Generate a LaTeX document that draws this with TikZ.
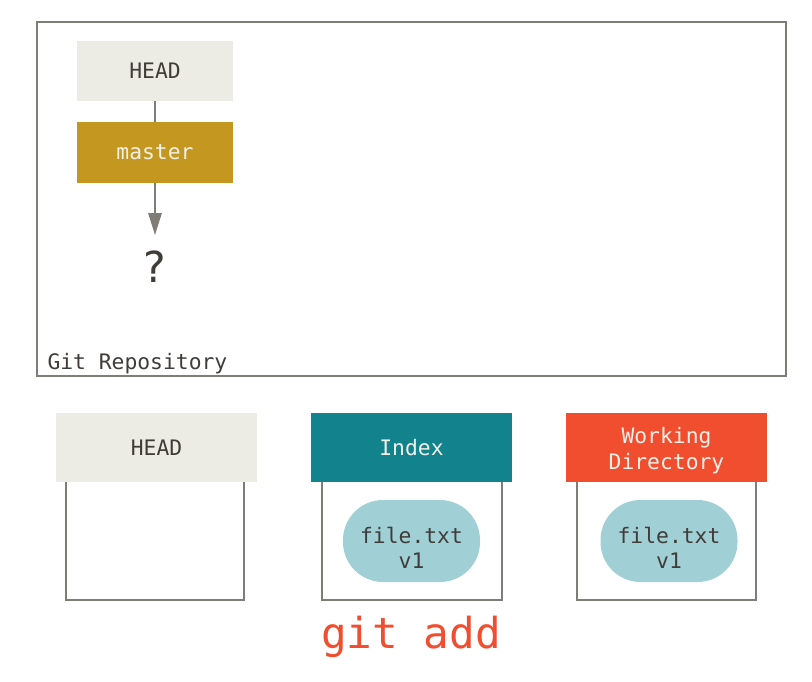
\documentclass[tikz,border=0pt]{standalone}
\usepackage{fontspec}
\setmonofont{DejaVu Sans Mono}
\setsansfont{DejaVu Sans}
\usetikzlibrary{arrows.meta}

\definecolor{headgray}{RGB}{236,236,228}
\definecolor{mastergold}{RGB}{196,152,32}
\definecolor{indexteal}{RGB}{18,130,140}
\definecolor{workred}{RGB}{240,78,46}
\definecolor{filecyan}{RGB}{160,208,214}
\definecolor{framegray}{RGB}{128,124,118}
\definecolor{textdark}{RGB}{64,60,56}
\definecolor{textlight}{RGB}{240,240,232}

\tikzset{every picture/.style={line width=0.75pt}}
\tikzset{
  framebox/.style={draw=framegray, line width=1.5},
  monotext/.style={font=\ttfamily\fontsize{16}{19.5}\selectfont},
  refbox/.style={monotext, inner sep=0pt, minimum width=117pt, minimum height=45pt},
  areahead/.style={monotext, inner sep=0pt, minimum width=150.75pt, minimum height=51.75pt},
  fileblob/.style={monotext, fill=filecyan, text=textdark, rounded corners=30pt, inner sep=0pt, minimum width=102.75pt, minimum height=61.5pt},
}
% two centred lines, lowered by #1
\newcommand{\twolines}[4]{\raisebox{-#1}[0pt][0pt]{\begin{tabular}{@{}c@{}}#2\\[#3]#4\end{tabular}}}

\begin{document}
\begin{tikzpicture}[x=0.75pt,y=0.75pt,yscale=-1,xscale=1]
\useasboundingbox (0,0) rectangle (812,681);

% Repository frame
\draw [framebox] (37,22) rectangle (786,376);
% Text Node
\node [monotext, text=textdark, anchor=base west, inner sep=0pt] (repo) at (47,369) {Git Repository};

% Reference nodes
\node [refbox, fill=headgray, text=textdark] (head) at (155,71) {HEAD};
\node [refbox, fill=mastergold, text=textlight] (master) at (155,152.5) {master};
\coordinate (tip) at (155,235);
\draw [framegray, line width=1.5] (head.south) -- (master.north);
\draw [framegray, line width=1.5, -{Triangle[length=16.5pt,width=10pt]}] (master.south) -- (tip);
% Text Node
\node [font=\sffamily\fontsize{32}{38}\selectfont, text=textdark, anchor=base, inner sep=0pt] (unknown) at (155,282) {?};

% Trees: lower boxes
\draw [framebox] (66,482) -- (66,600) -- (244,600) -- (244,482);
\draw [framebox] (322,482) -- (322,600) -- (502,600) -- (502,482);
\draw [framebox] (577,482) -- (577,600) -- (756,600) -- (756,482);

% Trees: headers
\node [areahead, fill=headgray, text=textdark] (headtree) at (156.5,447.5) {HEAD};
\node [areahead, fill=indexteal, text=textlight] (index) at (411.5,447.5) {Index};
\node [areahead, fill=workred, text=textlight] (workdir) at (666.5,447.5) {\twolines{7.5pt}{Working}{0pt}{Directory}};

% File blobs
\node [fileblob] (indexfile) at (411.5,541) {\twolines{11.75pt}{file.txt}{-1pt}{v1}};
\node [fileblob] (workfile) at (669,541) {\twolines{11.75pt}{file.txt}{-1pt}{v1}};

% Text Node
\node [font=\ttfamily\fontsize{32}{38}\selectfont, text=workred, anchor=base, inner sep=0pt] (cmd) at (411,648) {git add};
\end{tikzpicture}
\end{document}
